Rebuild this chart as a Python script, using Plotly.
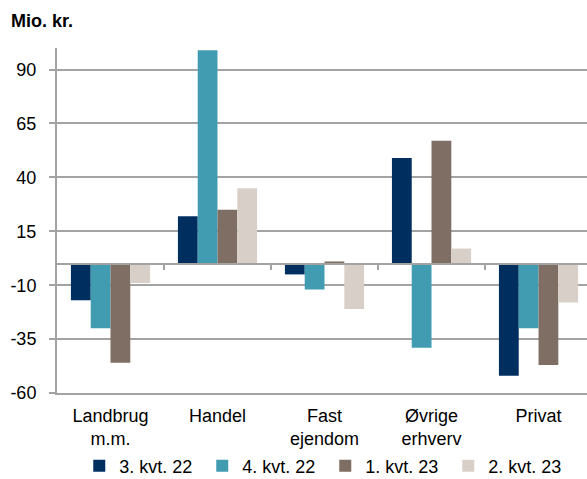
import plotly.graph_objects as go

categories = ["Landbrug<br>m.m.", "Handel", "Fast<br>ejendom", "Øvrige<br>erhverv", "Privat"]
series_names = ["3. kvt. 22", "4. kvt. 22", "1. kvt. 23", "2. kvt. 23"]
q3_22 = [-17, 22, -5, 49, -52]
q4_22 = [-30, 99, -12, -39, -30]
q1_23 = [-46, 25, 1, 57, -47]
q2_23 = [-9, 35, -21, 7, -18]
colors = ["#002F5F", "#419CB2", "#7F6E63", "#D9CFC9"]
y_tickvals = [-60, -35, -10, 15, 40, 65, 90]
y_ticktext = ["-60", "-35", "-10", "15", "40", "65", "90"]
boundaries = [0.5, 1.5, 2.5, 3.5]

FONT = "Liberation Sans, Arial, sans-serif"
GRID = "#A3A3A3"

fig = go.Figure()
for name, vals, col in zip(series_names, [q3_22, q4_22, q1_23, q2_23], colors):
    fig.add_trace(go.Bar(x=list(range(len(categories))), y=vals, name=name,
                         marker=dict(color=col, line=dict(width=0))))

# invisible helper trace so the zero-line axis (with boundary ticks) is drawn
fig.add_trace(go.Scatter(x=[0], y=[0], xaxis="x2", yaxis="y", mode="markers",
                         marker=dict(opacity=0), showlegend=False, hoverinfo="skip"))

xr = [-0.5, 4.453]
fig.update_layout(
    width=587, height=479,
    margin=dict(l=57, r=0, t=48, b=86, autoexpand=False),
    paper_bgcolor="white", plot_bgcolor="white",
    font=dict(family=FONT, size=18, color="#000000"),
    barmode="group", bargap=0.26, bargroupgap=0,
    title=dict(text="Mio. kr.", font=dict(family=FONT, size=18, color="#000000", weight="bold"),
               xref="container", yref="container", x=11/587, xanchor="left",
               y=1 - 21/479, yanchor="middle", automargin=False),
    xaxis=dict(range=xr, tickmode="array", tickvals=list(range(len(categories))),
               ticktext=categories, showgrid=False, zeroline=False,
               showline=True, linecolor=GRID, linewidth=2, ticks="",
               ticklabelstandoff=5, tickfont=dict(size=18)),
    xaxis2=dict(range=xr, overlaying="x", anchor="free", position=60/160, side="bottom",
                tickmode="array", tickvals=boundaries, showticklabels=False,
                ticks="outside", ticklen=5, tickwidth=2, tickcolor=GRID,
                showline=True, linecolor=GRID, linewidth=2, showgrid=False, zeroline=False),
    yaxis=dict(range=[-60, 100], tickmode="array", tickvals=y_tickvals, ticktext=y_ticktext,
               showgrid=True, gridcolor=GRID, gridwidth=2, zeroline=False,
               showline=True, linecolor=GRID, linewidth=2,
               ticks="outside", ticklen=6, tickwidth=2, tickcolor=GRID,
               ticklabelstandoff=9, tickfont=dict(size=18)),
    legend=dict(orientation="h", x=0.042, xanchor="left", y=-0.212, yanchor="middle",
                font=dict(size=18, color="#000000"), entrywidth=78, entrywidthmode="pixels",
                itemwidth=30, bgcolor="rgba(0,0,0,0)", traceorder="normal"),
    showlegend=True,
)

fig.write_html("out.html", post_script="document.body.style.margin='0';",
               config={"displayModeBar": False})
